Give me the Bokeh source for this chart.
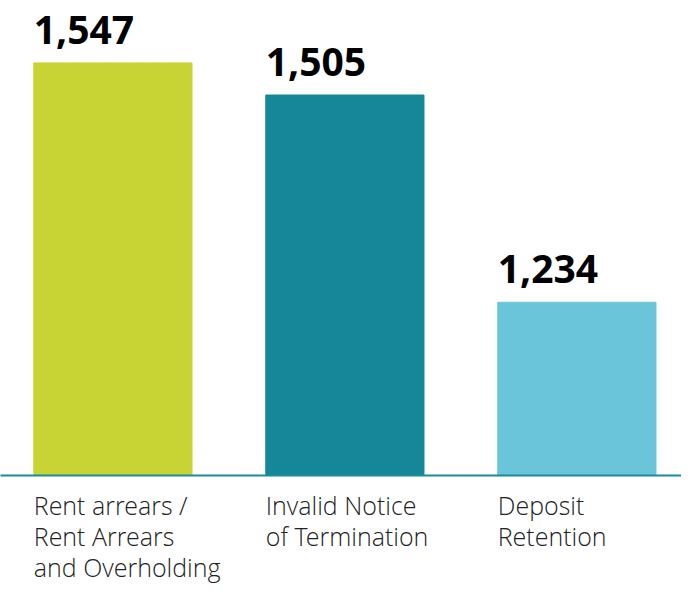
from bokeh.plotting import figure
from bokeh.models import ColumnDataSource, Range1d
from bokeh.core.properties import value
from bokeh.embed import file_html
from bokeh.resources import INLINE

categories = ["Rent arrears /\nRent Arrears\nand Overholding",
              "Invalid Notice\nof Termination",
              "Deposit\nRetention"]
counts = [1547, 1505, 1234]
count_labels = ["1,547", "1,505", "1,234"]
colors = ["#c8d433", "#148899", "#6ac5da"]

bar_w = 0.682
idx = list(range(len(categories)))
left = [i - bar_w / 2 for i in idx]

y_start, y_end = 1007.5, 1628.6

src = ColumnDataSource(dict(x=idx, left=left, top=counts, lab=count_labels,
                            cat=categories, color=colors,
                            base=[y_start] * len(idx)))

p = figure(width=681, height=587, output_backend="svg", toolbar_location=None,
           x_range=Range1d(-0.4845, 2.451), y_range=Range1d(y_start, y_end),
           min_border_left=0, min_border_right=0, min_border_top=0,
           min_border_bottom=112)
p.outline_line_color = None
p.xgrid.visible = False
p.ygrid.visible = False
p.yaxis.visible = False
p.xaxis.ticker = []
p.xaxis.major_tick_line_color = None
p.xaxis.minor_tick_line_color = None
p.xaxis.axis_line_color = "#1a8b9c"
p.xaxis.axis_line_width = 2

p.vbar(x="x", width=bar_w, bottom="base", top="top", color="color", source=src)

p.text(x="left", y="top", text="lab", source=src, text_font=value("Open Sans"),
       text_font_style="bold", text_font_size="39px", text_color="#000000",
       text_align="left", text_baseline="alphabetic", y_offset=-33)

cat_r = p.text(x="left", y="base", text="cat", source=src,
               text_font=value("Open Sans Light, Open Sans"),
               text_font_size="25px", text_color="#222222", text_align="left",
               text_baseline="top", text_line_height=0.92, y_offset=12)
cat_r.level = "overlay"

open("out.html", "w").write(file_html(p, INLINE))
